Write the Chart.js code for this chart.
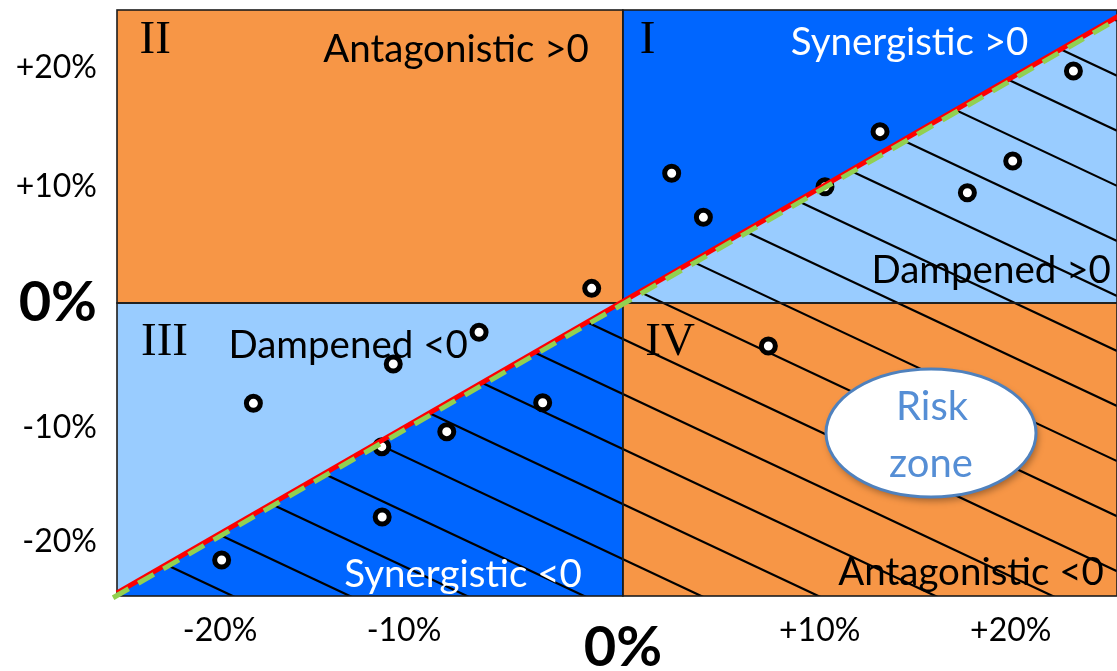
<!DOCTYPE html>
<html><head><meta charset="utf-8">
<script src="https://cdn.jsdelivr.net/npm/chart.js@4.4.1/dist/chart.umd.min.js"></script>
<style>html,body{margin:0;padding:0;background:#fff;}canvas{display:block;}</style>
</head><body>
<canvas id="c" width="1117" height="671"></canvas>
<script>
// ---- data (in % units) ----
const pointsX = [-1.60, 2.51, 4.14, 10.39, 13.22, 17.71, 20.04, 23.16, 25.6, 7.48, -7.39, -11.80, -18.99, -4.12, -9.05, -12.39, -12.37, -20.62];
const pointsY = [1.25, 11.07, 7.31, 9.92, 14.62, 9.41, 12.12, 19.80, 26.1, -3.67, -2.50, -5.20, -8.56, -8.51, -10.98, -12.26, -18.26, -21.93];
const redLineX = [-26.0, 25.6];
const redLineY = [-24.74, 24.6];
const greenLineX = [-26.2, 25.6];
const greenLineY = [-25.15, 24.39];
const xTickAt = [-20.7, -11.25, 0, 10.12, 19.94];
const xTickLabels = ['-20%', '-10%', '0%', '+10%', '+20%'];
const yTickAt = [20.05, 9.9, 0, -10.67, -20.4];
const yTickLabels = ['+20%', '+10%', '0%', '-10%', '-20%'];

// ---- styling / annotations ----
const ORANGE = '#F79646', DARK = '#0066FF', LIGHT = '#99CCFF';
const FONT = 'Lato';
const regionLabels = [
  {text: 'Antagonistic >0', x: -8.57, y: 20.56, color: '#000'},
  {text: 'Synergistic >0', x: 14.74, y: 21.16, color: '#fff'},
  {text: 'Dampened >0', x: 18.93, y: 1.71, color: '#000'},
  {text: 'Dampened <0', x: -14.12, y: -4.69, color: '#000'},
  {text: 'Synergistic <0', x: -8.21, y: -24.23, color: '#fff'},
  {text: 'Antagonistic <0', x: 17.9, y: -24.06, color: '#000'}
];
const romanLabels = [
  {text: 'II', x: -24.04, y: 21.33},
  {text: 'I', x: 1.27, y: 21.33},
  {text: 'III', x: -23.56, y: -4.44},
  {text: 'IV', x: 2.43, y: -4.44}
];
const riskZone = {x: 15.84, y: -11.09, lines: ['Risk', 'zone']};
const HATCH = {slope: 0.47, spacing: 55.05, phase: 35.95};

const quadrantPlugin = {
  id: 'quadrants',
  beforeDatasetsDraw(chart) {
    const {ctx, chartArea: a, scales} = chart;
    const sx = scales.x, sy = scales.y;
    const x0 = sx.getPixelForValue(0), y0 = sy.getPixelForValue(0);
    const px1 = sx.getPixelForValue(redLineX[0]), py1 = sy.getPixelForValue(redLineY[0]);
    const px2 = sx.getPixelForValue(redLineX[1]), py2 = sy.getPixelForValue(redLineY[1]);
    const yAt = X => py1 + (py2 - py1) * (X - px1) / (px2 - px1);
    const L = a.left, R = a.right, T = a.top, B = a.bottom;
    const belowPath = () => {
      ctx.beginPath();
      ctx.moveTo(L - 60, yAt(L - 60)); ctx.lineTo(R + 60, yAt(R + 60));
      ctx.lineTo(R + 60, B + 60); ctx.lineTo(L - 60, B + 60); ctx.closePath();
    };
    ctx.save();
    ctx.fillStyle = ORANGE;
    ctx.fillRect(L, T, x0 - L, y0 - T);
    ctx.fillRect(x0, y0, R - x0, B - y0);
    ctx.fillStyle = DARK; ctx.fillRect(x0, T, R - x0, y0 - T);
    ctx.fillStyle = LIGHT; ctx.fillRect(L, y0, x0 - L, B - y0);
    ctx.save(); ctx.beginPath(); ctx.rect(x0, T, R - x0, y0 - T); ctx.clip();
    belowPath(); ctx.fillStyle = LIGHT; ctx.fill(); ctx.restore();
    ctx.save(); ctx.beginPath(); ctx.rect(L, y0, x0 - L, B - y0); ctx.clip();
    belowPath(); ctx.fillStyle = DARK; ctx.fill(); ctx.restore();

    // hatch below the diagonal
    ctx.save(); ctx.beginPath(); ctx.rect(L, T, R - L, B - T); ctx.clip();
    belowPath(); ctx.clip();
    ctx.strokeStyle = '#000'; ctx.lineWidth = 2.2;
    const base = y0 - HATCH.slope * x0;
    for (let m = -40; m <= 40; m++) {
      const c = base + HATCH.phase + m * HATCH.spacing;
      ctx.beginPath(); ctx.moveTo(L, HATCH.slope * L + c); ctx.lineTo(R, HATCH.slope * R + c); ctx.stroke();
    }
    ctx.restore();

    // quadrant borders
    ctx.strokeStyle = '#1c1c1c'; ctx.lineWidth = 1.6;
    ctx.strokeRect(L, T, x0 - L, y0 - T);
    ctx.strokeRect(x0, T, R - x0, y0 - T);
    ctx.strokeRect(L, y0, x0 - L, B - y0);
    ctx.strokeRect(x0, y0, R - x0, B - y0);

    // texts
    ctx.textAlign = 'center'; ctx.textBaseline = 'alphabetic';
    ctx.font = '38.5px ' + FONT;
    regionLabels.forEach(l => {
      ctx.fillStyle = l.color;
      ctx.fillText(l.text, sx.getPixelForValue(l.x), sy.getPixelForValue(l.y));
    });
    ctx.font = '47px "Liberation Serif"'; ctx.fillStyle = '#000';
    romanLabels.forEach(l => ctx.fillText(l.text, sx.getPixelForValue(l.x), sy.getPixelForValue(l.y)));
    ctx.restore();
  },
  afterDatasetsDraw(chart) {
    const {ctx, scales} = chart;
    const cx = scales.x.getPixelForValue(riskZone.x), cy = scales.y.getPixelForValue(riskZone.y);
    ctx.save();
    ctx.shadowColor = 'rgba(0,0,0,0.35)'; ctx.shadowBlur = 7; ctx.shadowOffsetX = 2; ctx.shadowOffsetY = 4;
    ctx.beginPath(); ctx.ellipse(cx, cy, 105, 64, 0, 0, Math.PI * 2);
    ctx.fillStyle = '#fff'; ctx.fill();
    ctx.shadowColor = 'transparent';
    ctx.lineWidth = 3; ctx.strokeStyle = '#4F81BD'; ctx.stroke();
    ctx.fillStyle = '#558ED5'; ctx.font = '40px ' + FONT;
    ctx.textAlign = 'center'; ctx.textBaseline = 'alphabetic';
    ctx.fillText(riskZone.lines[0], cx + 1, cy - 13);
    ctx.fillText(riskZone.lines[1], cx, cy + 44);
    ctx.restore();
  }
};

const toXY = (xs, ys) => xs.map((v, i) => ({x: v, y: ys[i]}));

new Chart(document.getElementById('c'), {
  type: 'scatter',
  data: {
    datasets: [
      {label: 'additivity', data: toXY(greenLineX, greenLineY), showLine: true, borderColor: '#92D050',
       borderWidth: 5, borderDash: [18, 11], pointRadius: 0, order: 0, clip: false, borderCapStyle: 'butt'},
      {label: 'fit', data: toXY(redLineX, redLineY), showLine: true, borderColor: '#FF0000',
       borderWidth: 5, pointRadius: 0, order: 1, clip: false},
      {label: 'samples', data: toXY(pointsX, pointsY), pointRadius: 7, pointHoverRadius: 7, borderWidth: 5,
       backgroundColor: '#fff', borderColor: '#000', order: 2, clip: false}
    ]
  },
  options: {
    responsive: false, animation: false, devicePixelRatio: 1,
    layout: {autoPadding: false, padding: {top: 10, right: 0, bottom: 0, left: 0}},
    plugins: {legend: {display: false}, tooltip: {enabled: false}},
    scales: {
      x: {
        type: 'linear', min: -26, max: 25.4,
        grid: {display: false, drawTicks: false}, border: {display: false},
        afterBuildTicks: s => { s.ticks = xTickAt.map(v => ({value: v})); },
        afterFit: s => { s.height = 75; s.paddingLeft = 0; s.paddingRight = 0; },
        ticks: {
          padding: 15, color: '#000', autoSkip: false, maxRotation: 0,
          font: c => (c.tick && c.tick.value === 0) ? {family: FONT, size: 56, weight: 'bold', lineHeight: 1.32} : {family: FONT, size: 32},
          callback: (v, i) => xTickLabels[i]
        }
      },
      y: {
        type: 'linear', min: -25, max: 25,
        grid: {display: false, drawTicks: false}, border: {display: false},
        afterBuildTicks: s => { s.ticks = yTickAt.map(v => ({value: v})); },
        afterFit: s => { s.width = 117; s.paddingTop = 0; s.paddingBottom = 0; },
        ticks: {
          padding: 20, color: '#000', autoSkip: false,
          font: c => (c.tick && c.tick.value === 0) ? {family: FONT, size: 56, weight: 'bold'} : {family: FONT, size: 32},
          callback: (v, i) => yTickLabels[i]
        }
      }
    }
  },
  plugins: [quadrantPlugin]
});
</script>
</body></html>
